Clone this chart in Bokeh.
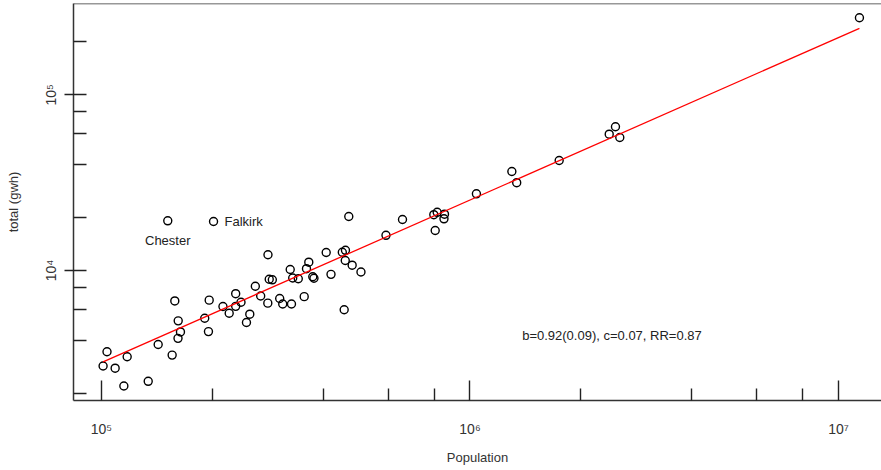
from bokeh.plotting import figure
from bokeh.models import FixedTicker, CustomJSTickFormatter, Span, Range1d
from bokeh.core.properties import value
from bokeh.embed import file_html
from bokeh.resources import INLINE

# ---- data (population, total GWh) ----
population = [101000, 103500, 108900, 115000, 117400, 133900, 142500, 151300, 155500, 158100,
              161500, 161300, 163800, 190600, 195100, 196000, 201400, 213600, 222100, 231300,
              231300, 239100, 247400, 252600, 261500, 270400, 283000, 282700, 285200, 290800,
              304500, 310300, 325200, 327800, 330300, 342000, 354900, 360000, 365200, 374400,
              377200, 407200, 419600, 450300, 459300, 458700, 455600, 468900, 478900, 506000,
              591600, 655900, 797700, 814700, 852700, 850000, 804700, 1041000, 1299000, 1339000,
              1746000, 2387000, 2482000, 2550000, 11400000]
total_gwh = [2860, 3450, 2780, 2200, 3230, 2340, 3790, 19180, 3300, 6710,
             5170, 4110, 4470, 5350, 4490, 6780, 19000, 6240, 5710, 7380,
             6250, 6600, 5060, 5640, 8140, 7160, 12300, 6520, 8920, 8850,
             6930, 6450, 10130, 6450, 9060, 8970, 7100, 10240, 11150, 9210,
             9030, 12660, 9510, 12710, 13030, 11400, 5980, 20290, 10720, 9810,
             15860, 19510, 20780, 21440, 20920, 19690, 16890, 27320, 36600, 31610,
             42270, 59680, 65750, 57150, 274400]

# labelled towns
chester = (151300, 19180)
falkirk = (201400, 19000)

# fitted line (log-log), end points
fit_x = [101000, 11400000]
fit_y = [3020, 239100]

annotation = "b=0.92(0.09), c=0.07, RR=0.87"

# ticks
x_major = [1e5, 1e6, 1e7]
x_minor = [2e5, 4e5, 6e5, 8e5, 2e6, 4e6, 6e6, 8e6]
y_major = [1e4, 1e5]
y_minor = [2e3, 4e3, 6e3, 8e3, 2e4, 4e4, 6e4, 8e4, 2e5]

# ---- layout constants ----
X_START, X_END = 83950, 1.3085e7
Y_START, Y_END = 1820, 330900
ANNOT_X, ANNOT_Y = 2.428e6, 4266
FONT = "Liberation Sans"
FS = "13px"
INK = "#222222"

p = figure(width=881, height=470, x_axis_type="log", y_axis_type="log",
           x_range=Range1d(X_START, X_END), y_range=Range1d(Y_START, Y_END),
           output_backend="svg", toolbar_location=None,
           min_border_left=73, min_border_right=0, min_border_top=3, min_border_bottom=70)
p.outline_line_color = None
p.xgrid.visible = False
p.ygrid.visible = False
p.background_fill_color = "white"
p.border_fill_color = "white"

fmt = CustomJSTickFormatter(code="""
const sup = {"0":"\u2070","1":"\u00b9","2":"\u00b2","3":"\u00b3","4":"\u2074","5":"\u2075","6":"\u2076","7":"\u2077","8":"\u2078","9":"\u2079"};
const e = String(Math.round(Math.log10(tick)));
return "10" + e.split("").map(c => sup[c]).join("");
""")

xa = p.xaxis[0]
xa.ticker = FixedTicker(ticks=x_major, minor_ticks=x_minor)
xa.formatter = fmt
xa.axis_label = "Population"
xa.major_tick_in = 20
xa.major_tick_out = 0
xa.minor_tick_in = 12
xa.minor_tick_out = 0
xa.major_label_standoff = 20
xa.axis_label_standoff = 10

ya = p.yaxis[0]
ya.ticker = FixedTicker(ticks=y_major, minor_ticks=y_minor)
ya.formatter = fmt
ya.axis_label = "total (gwh)"
ya.major_tick_in = 13
ya.major_tick_out = 9
ya.minor_tick_in = 13
ya.minor_tick_out = 0
ya.major_label_orientation = "vertical"
ya.major_label_standoff = 5
ya.axis_label_standoff = 20

for ax in (xa, ya):
    ax.axis_line_color = "#333333"
    ax.axis_line_width = 1.5
    ax.major_tick_line_color = "#222222"
    ax.major_tick_line_width = 1.4
    ax.minor_tick_line_color = "#222222"
    ax.minor_tick_line_width = 1.4
    ax.major_label_text_font = FONT
    ax.major_label_text_font_size = "14px"
    ax.major_label_text_color = "#333333"
    ax.axis_label_text_font = FONT
    ax.axis_label_text_font_size = FS
    ax.axis_label_text_font_style = "normal"
    ax.axis_label_text_color = "#333333"

# top border of the box
p.add_layout(Span(location=Y_END, dimension="width", line_color="#333333", line_width=1.5))

# points
p.scatter(population, total_gwh, marker="circle", size=8, fill_color=None,
          line_color="black", line_width=1.4)

# fitted line
p.line(fit_x, fit_y, line_color="red", line_width=1.3)

# town labels
p.text(x=[chester[0]], y=[chester[1]], text=["Chester"], text_font=value(FONT),
       text_font_size=value(FS), text_color=INK, text_align="center",
       text_baseline="middle", y_offset=20)
p.text(x=[falkirk[0]], y=[falkirk[1]], text=["Falkirk"], text_font=value(FONT),
       text_font_size=value(FS), text_color=INK, text_align="left",
       text_baseline="middle", x_offset=11)

# fit statistics
p.text(x=[ANNOT_X], y=[ANNOT_Y], text=[annotation], text_font=value(FONT),
       text_font_size=value(FS), text_color=INK, text_align="center",
       text_baseline="middle")

open("out.html", "w").write(file_html(p, INLINE))
